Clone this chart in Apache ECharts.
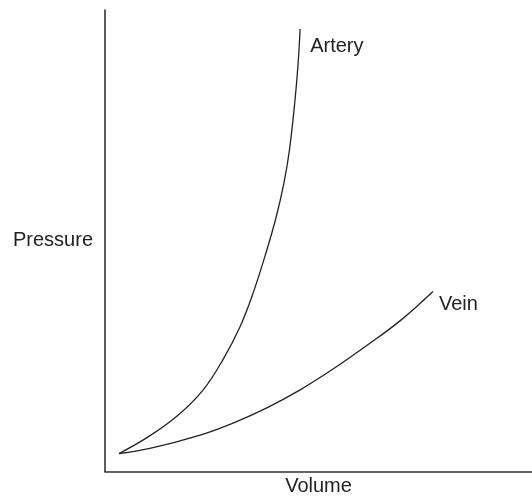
<!DOCTYPE html>
<html>
<head>
<meta charset="utf-8">
<script src="https://cdn.jsdelivr.net/npm/echarts@6/dist/echarts.min.js"></script>
<style>html,body{margin:0;padding:0;background:#fff}#c{width:532px;height:498px}</style>
</head>
<body>
<div id="c"></div>
<script>
// Arbitrary units (volume on x, pressure on y)
const arteryVolume   = [3.3, 10.1, 17.1, 23.0, 27.6, 31.6, 34.7, 37.9, 40.1, 41.9, 43.2, 44.5, 45.2, 45.7];
const arteryPressure = [3.9, 7.5, 12.2, 17.7, 24.2, 31.3, 38.7, 48.0, 55.2, 62.5, 69.7, 80.5, 88.1, 95.9];
const veinVolume     = [3.3, 10.5, 22.3, 30.0, 37.9, 45.7, 53.4, 61.3, 69.3, 76.8];
const veinPressure   = [3.9, 5.0, 7.9, 10.5, 13.8, 17.7, 22.2, 27.3, 32.8, 39.0];
const seriesNames = ['Artery', 'Vein'];
const axisNames = { x: 'Volume', y: 'Pressure' };

const zip = (a, b) => a.map((v, i) => [v, b[i]]);
const font = 'Liberation Sans, Arial, Helvetica, sans-serif';
const txt = '#222';

const axisCommon = {
  type: 'value', min: 0, max: 100,
  axisLine: { show: true, lineStyle: { color: '#333', width: 1.6 } },
  axisTick: { show: false }, axisLabel: { show: false }, splitLine: { show: false },
  nameLocation: 'middle',
  nameTextStyle: { fontSize: 20, color: txt, fontFamily: font }
};

const lineCommon = {
  type: 'line', smooth: 0.4, showSymbol: false, silent: true, animation: false,
  lineStyle: { color: '#222', width: 1.3 }
};

const chart = echarts.init(document.getElementById('c'), null, { renderer: 'canvas' });
chart.setOption({
  backgroundColor: '#fff',
  animation: false,
  grid: { left: 105, right: 0, top: 10, bottom: 26.5, containLabel: false, outerBoundsMode: 'none' },
  xAxis: Object.assign({}, axisCommon, { name: axisNames.x, nameGap: 5 }),
  yAxis: Object.assign({}, axisCommon, { name: axisNames.y, nameGap: 12, nameRotate: 0 }),
  series: [
    Object.assign({}, lineCommon, {
      name: seriesNames[0], data: zip(arteryVolume, arteryPressure),
      endLabel: { show: true, formatter: seriesNames[0], fontSize: 20, color: txt, fontFamily: font, distance: 10, offset: [0, 18] }
    }),
    Object.assign({}, lineCommon, {
      name: seriesNames[1], data: zip(veinVolume, veinPressure),
      endLabel: { show: true, formatter: seriesNames[1], fontSize: 20, color: txt, fontFamily: font, distance: 6, offset: [0, 13] }
    })
  ]
});
</script>
</body>
</html>
